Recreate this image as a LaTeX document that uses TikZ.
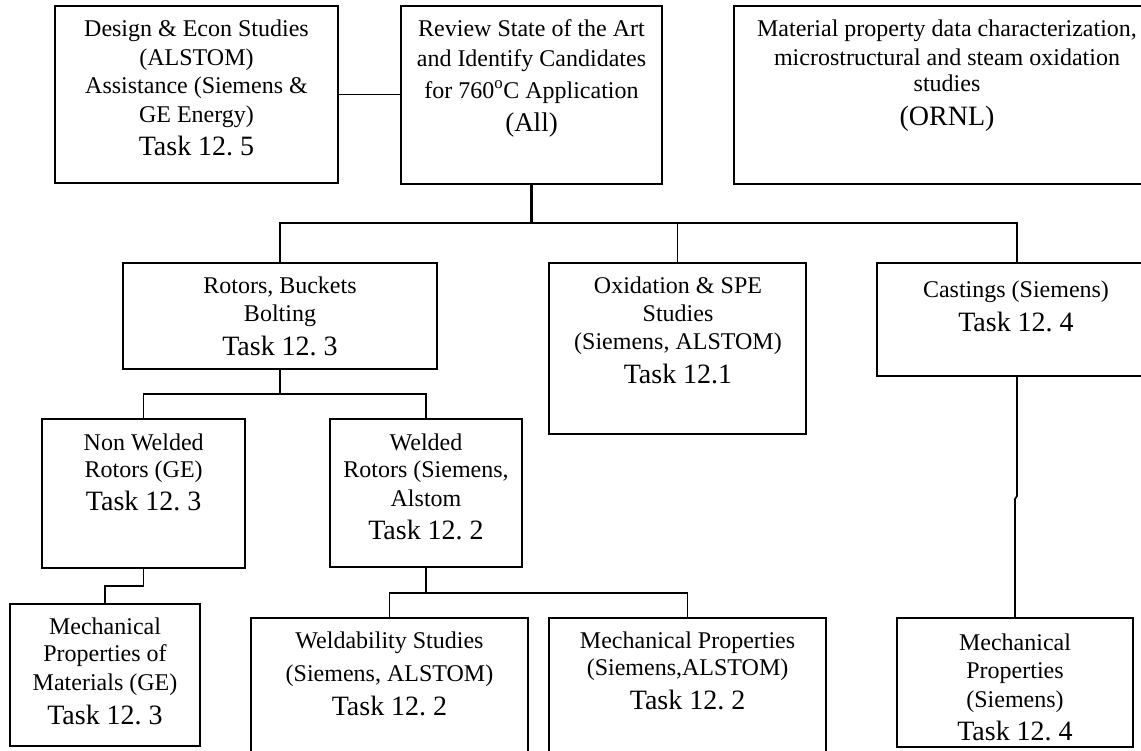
\documentclass[tikz,border=0pt]{standalone}
\usepackage{fontspec}
\setmainfont{Liberation Serif}
\newcommand{\tk}{\fontsize{28}{28}\selectfont}
\newcommand{\pb}[1]{\parbox[t]{420pt}{\frenchspacing\centering #1}}
\tikzset{
  box/.style={draw, line width=1.5pt, inner sep=0pt, outer sep=0pt},
  thickbox/.style={box, line width=2.5pt},
  txt/.style={inner sep=0pt, outer sep=0pt, anchor=base, font=\fontsize{24}{28.5}\selectfont},
  conn/.style={line width=1.7pt},
  mainconn/.style={line width=2.1pt},
}
\begin{document}
\begin{tikzpicture}[x=1pt,y=-1pt]
\useasboundingbox (0,0) rectangle (1141,750);
\clip (0,0) rectangle (1141,750);
\fill[white] (0,0) rectangle (1141,750);

% boxes
\node[box, minimum width=283pt, minimum height=177pt] (des) at (196.5,94.5) {};
\node[box, minimum width=261pt, minimum height=178pt] (rev) at (531.5,95) {};
\node[thickbox, minimum width=426pt, minimum height=178pt] (orn) at (947,95) {};
\node[box, minimum width=314pt, minimum height=106pt] (rot) at (280,316) {};
\node[box, minimum width=257pt, minimum height=171pt] (oxi) at (677.5,348.5) {};
\node[box, minimum width=280pt, minimum height=113pt] (cas) at (1017,319.5) {};
\node[box, minimum width=203pt, minimum height=149pt] (nw) at (143.5,493.5) {};
\node[box, minimum width=192pt, minimum height=148pt] (wel) at (426,493) {};
\node[box, minimum width=190pt, minimum height=142pt] (mge) at (105,675) {};
\node[box, minimum width=277pt, minimum height=152pt] (wdb) at (389.5,694) {};
\node[box, minimum width=277pt, minimum height=152pt] (mpr) at (687.5,694) {};
\node[box, minimum width=236pt, minimum height=129pt] (msi) at (1015,682.5) {};

% texts
\node[txt] (desT) at (196.5,36.7) {\pb{Design \& Econ Studies\\ (ALSTOM)\\ Assistance (Siemens \&\\ GE Energy)\\[4.8pt] {\tk Task 12. 5}}};
\node[txt] (revT) at (531.5,36.7) {\pb{Review State of the Art\\[1.5pt] and Identify Candidates\\[2.8pt] for 760\textsuperscript{o}C Application\\[4.5pt] {\fontsize{27}{27}\selectfont (All)}}};
\node[txt] (ornT) at (947,36.7) {\pb{Material property data characterization,\\ microstructural and steam oxidation\\[-1.8pt] studies\\[4.8pt] {\tk (ORNL)}}};
\node[txt] (rotT) at (280,293.3) {\pb{Rotors, Buckets\\ Bolting\\[4.8pt] {\tk Task 12. 3}}};
\node[txt] (oxiT) at (678,293.3) {\pb{Oxidation \& SPE\\ Studies\\[-0.9pt] (Siemens, ALSTOM)\\[5.5pt] {\tk Task 12.1}}};
\node[txt] (casT) at (1016,297.3) {\pb{Castings (Siemens)\\[5.2pt] {\tk Task 12. 4}}};
\node[txt] (nwT) at (143.7,450) {\pb{Non Welded\\[-1.2pt] Rotors (GE)\\[4.9pt] {\tk Task 12. 3}}};
\node[txt] (welT) at (426,450) {\pb{Welded\\[-1.2pt] Rotors (Siemens,\\[0.2pt] Alstom\\[4.8pt] {\tk Task 12. 2}}};
\node[txt] (mgeT) at (105,634) {\pb{Mechanical\\[-0.8pt] Properties of\\[-0.2pt] Materials (GE)\\[5.5pt] {\tk Task 12. 3}}};
\node[txt] (wdbT) at (389.5,648.3) {\pb{Weldability Studies\\[4.9pt] (Siemens, ALSTOM)\\[4.8pt] {\tk Task 12. 2}}};
\node[txt] (mprT) at (687.6,648.3) {\pb{Mechanical Properties\\[-1.8pt] (Siemens,ALSTOM)\\[5.5pt] {\tk Task 12. 2}}};
\node[txt] (msiT) at (1015,650.7) {\pb{Mechanical\\[-0.9pt] Properties\\[0.5pt] (Siemens)\\[4.9pt] {\tk Task 12. 4}}};

% connectors
\draw[conn] (des.east) -- (des.east -| rev.west);
\coordinate (j1) at (531.5,223);
\draw[mainconn] (rev.south) -- (j1);
\draw[mainconn] (rot.north) -- (rot.north |- j1) -- (cas.north |- j1) -- (cas.north);
\draw[conn] (oxi.north) -- (oxi.north |- j1);
\coordinate (j2) at (280,394);
\draw[conn] (rot.south) -- (j2);
\draw[conn] (nw.north) -- (nw.north |- j2) -- (wel.north |- j2) -- (wel.north);
\coordinate (j3) at (143.5,586);
\draw[conn] (nw.south) -- (j3) -- (j3 -| mge.north) -- (mge.north);
\coordinate (j4) at (426,593);
\draw[conn] (wel.south) -- (j4);
\draw[conn] (wdb.north) -- (wdb.north |- j4) -- (mpr.north |- j4) -- (mpr.north);
\coordinate (j5) at (1017,496);
\coordinate (j6) at (1015,499);
\draw[conn] (cas.south) -- (j5) -- (j6) -- (msi.north);
\end{tikzpicture}
\end{document}
